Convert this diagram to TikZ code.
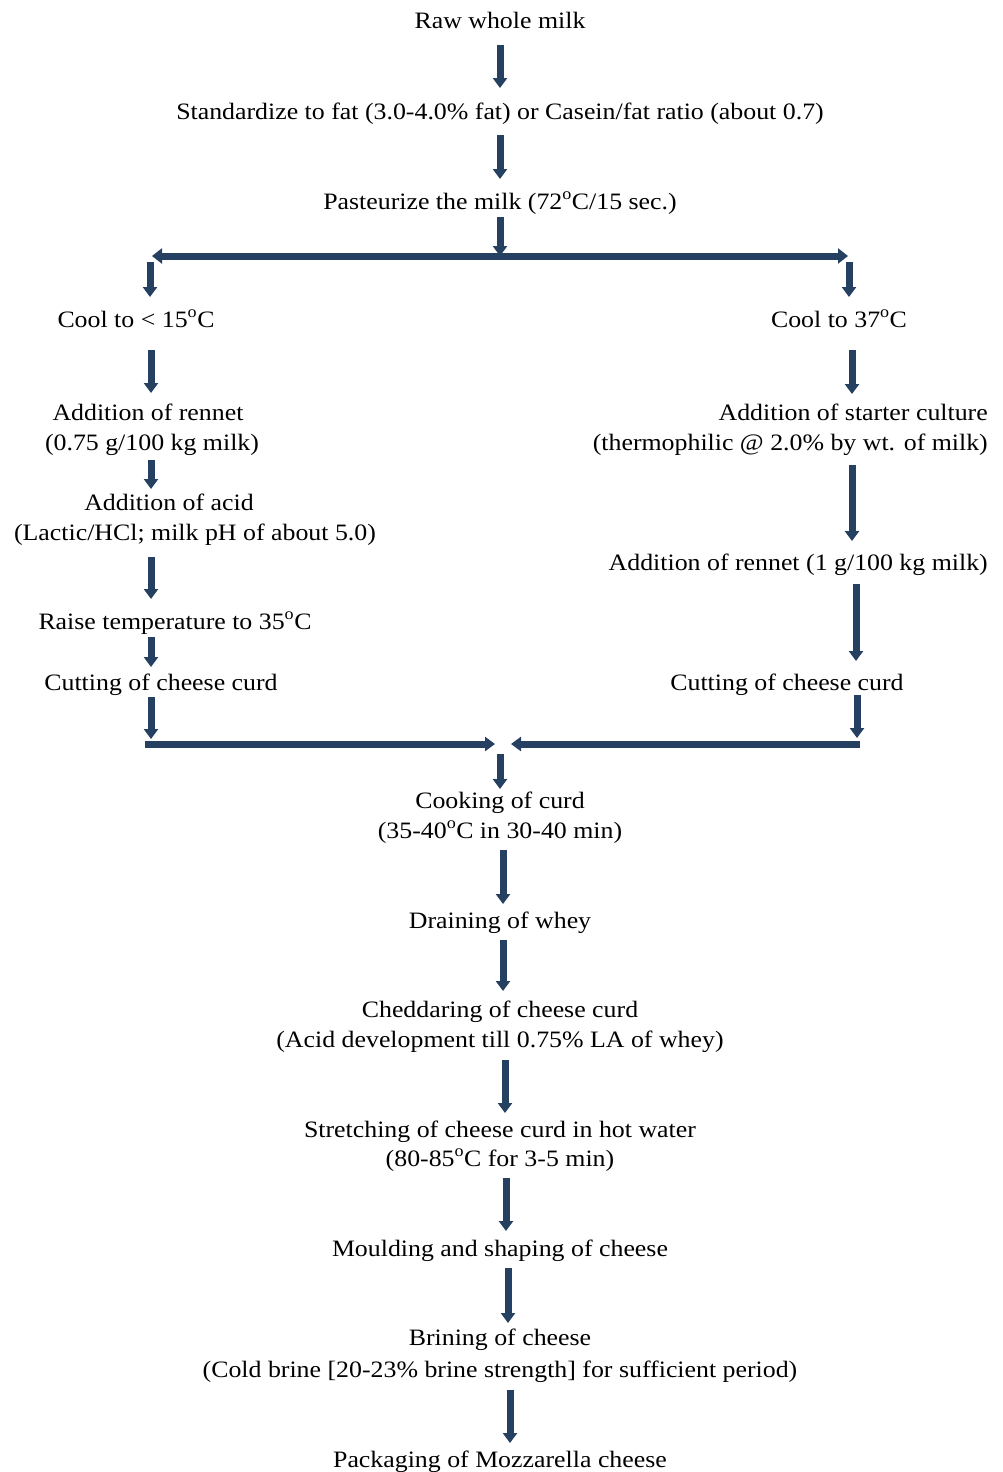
\documentclass[tikz,border=0pt]{standalone}
\usepackage{fontspec}
\setmainfont{Liberation Serif}[FakeStretch=1.1]
\usetikzlibrary{arrows.meta}
\definecolor{navy}{RGB}{38,64,98}
\begin{document}
\begin{tikzpicture}[x=1pt,y=-1pt,
  lbl/.style={font=\fontsize{23.5}{26}\selectfont, inner sep=0pt, text height=17pt, text depth=5pt, yshift=-1pt},
  flow/.style={draw=navy, line width=7pt, -{Triangle[width=14pt,length=10pt]}},
  bar/.style={draw=navy, line width=7pt}]
\useasboundingbox (0,0) rectangle (1003,1472);
% texts
\node[lbl] (t1) at (500,22) {Raw whole milk};
\node[lbl] (t2) at (500,112) {Standardize to fat (3.0-4.0\% fat) or Casein/fat ratio (about 0.7)};
\node[lbl] (t3) at (500,202) {Pasteurize the milk (72\textsuperscript{o}C/15 sec.)};
\node[lbl] (l1) at (136,320) {Cool to < 15\textsuperscript{o}C};
\node[lbl] (r1) at (839,320) {Cool to 37\textsuperscript{o}C};
\node[lbl] (l2a) at (148,413) {Addition of rennet};
\node[lbl] (l2b) at (152,443) {(0.75 g/100 kg milk)};
\node[lbl] (l3a) at (169,503) {Addition of acid};
\node[lbl] (l3b) at (195,533) {(Lactic/HCl; milk pH of about 5.0)};
\node[lbl] (l4) at (175,622) {Raise temperature to 35\textsuperscript{o}C};
\node[lbl] (l5) at (161,683) {Cutting of cheese curd};
\node[lbl,anchor=east] (r2a) at (988,413) {Addition of starter culture};
\node[lbl,anchor=east] (r2b) at (988,443) {(thermophilic @ 2.0\% by wt. of milk)};
\node[lbl,anchor=east] (r3) at (988,563) {Addition of rennet (1 g/100 kg milk)};
\node[lbl] (r4) at (787,683) {Cutting of cheese curd};
\node[lbl] (c1a) at (500,801) {Cooking of curd};
\node[lbl] (c1b) at (500,831) {(35-40\textsuperscript{o}C in 30-40 min)};
\node[lbl] (c2) at (500,921) {Draining of whey};
\node[lbl] (c3a) at (500,1010) {Cheddaring of cheese curd};
\node[lbl] (c3b) at (500,1040) {(Acid development till 0.75\% LA of whey)};
\node[lbl] (c4a) at (500,1130) {Stretching of cheese curd in hot water};
\node[lbl] (c4b) at (500,1159) {(80-85\textsuperscript{o}C for 3-5 min)};
\node[lbl] (c5) at (500,1249) {Moulding and shaping of cheese};
\node[lbl] (c6a) at (500,1338) {Brining of cheese};
\node[lbl] (c6b) at (500,1370) {(Cold brine [20-23\% brine strength] for sufficient period)};
\node[lbl] (c7) at (500,1460) {Packaging of Mozzarella cheese};
% connector end points
\coordinate (a1s) at (500,45);  \coordinate (a1e) at (500,88);
\coordinate (a2s) at (500,135); \coordinate (a2e) at (500,179);
\coordinate (a3s) at (500,217); \coordinate (a3e) at (500,256);
\coordinate (hl) at (152,256);  \coordinate (hr) at (848,256);
\coordinate (bls) at (150,262); \coordinate (ble) at (150,297);
\coordinate (brs) at (849,262); \coordinate (bre) at (849,297);
\coordinate (l1s) at (151,350); \coordinate (l1e) at (151,393);
\coordinate (l2s) at (151,460); \coordinate (l2e) at (151,489);
\coordinate (l3s) at (151,557); \coordinate (l3e) at (151,599);
\coordinate (l4s) at (151,637); \coordinate (l4e) at (151,667);
\coordinate (l5s) at (151,697); \coordinate (l5e) at (151,739);
\coordinate (r1s) at (852,350); \coordinate (r1e) at (852,394);
\coordinate (r2s) at (852,465); \coordinate (r2e) at (852,541);
\coordinate (r3s) at (856,584); \coordinate (r3e) at (856,661);
\coordinate (r4s) at (857,695); \coordinate (r4e) at (857,738);
\coordinate (ml0) at (145,744); \coordinate (ml1) at (495,744);
\coordinate (mr0) at (860,744); \coordinate (mr1) at (511,744);
\coordinate (m1s) at (500,754); \coordinate (m1e) at (500,789);
\coordinate (m2s) at (503,850); \coordinate (m2e) at (503,904);
\coordinate (m3s) at (503,940); \coordinate (m3e) at (503,991);
\coordinate (m4s) at (505,1060); \coordinate (m4e) at (505,1113);
\coordinate (m5s) at (506,1178); \coordinate (m5e) at (506,1231);
\coordinate (m6s) at (508,1268); \coordinate (m6e) at (508,1323);
\coordinate (m7s) at (510,1390); \coordinate (m7e) at (510,1443);
% connectors
\draw[flow] (a1s) -- (a1e);
\draw[flow] (a2s) -- (a2e);
\draw[flow] (a3s) -- (a3e);
\draw[bar, {Triangle[width=15pt,length=10pt]}-{Triangle[width=15pt,length=10pt]}] (hl) -- (hr);
\draw[flow] (bls) -- (ble);
\draw[flow] (brs) -- (bre);
\draw[flow] (l1s) -- (l1e);
\draw[flow] (l2s) -- (l2e);
\draw[flow] (l3s) -- (l3e);
\draw[flow] (l4s) -- (l4e);
\draw[flow] (l5s) -- (l5e);
\draw[flow] (r1s) -- (r1e);
\draw[flow] (r2s) -- (r2e);
\draw[flow] (r3s) -- (r3e);
\draw[flow] (r4s) -- (r4e);
\draw[flow] (ml0) -- (ml1);
\draw[flow] (mr0) -- (mr1);
\draw[flow] (m1s) -- (m1e);
\draw[flow] (m2s) -- (m2e);
\draw[flow] (m3s) -- (m3e);
\draw[flow] (m4s) -- (m4e);
\draw[flow] (m5s) -- (m5e);
\draw[flow] (m6s) -- (m6e);
\draw[flow] (m7s) -- (m7e);
\end{tikzpicture}
\end{document}
